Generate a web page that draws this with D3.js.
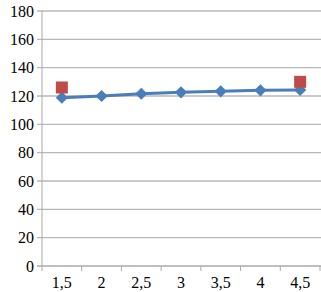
<!DOCTYPE html>
<html><head><meta charset="utf-8">
<script src="https://cdn.jsdelivr.net/npm/d3@7"></script>
<style>body{margin:0;background:#fff}svg{display:block}</style>
</head><body><svg width="321" height="292"></svg>
<script>
const categories = ["1,5","2","2,5","3","3,5","4","4,5"];
const lineValues = [118.8,120,121.6,122.6,123.3,124,124.3];
const markerValues = [126,null,null,null,null,null,130];
const yTicks = [0,20,40,60,80,100,120,140,160,180];

const FONT = "'Liberation Serif','Times New Roman','DejaVu Serif',serif";
const svg = d3.select("svg").attr("font-family",FONT).attr("font-size",16);
const x = d3.scaleBand().domain(categories).range([42,320]);
const y = d3.scaleLinear().domain([0,180]).range([266,11]);

svg.append("g").selectAll("line").data(yTicks).join("line")
  .attr("x1",37).attr("x2",321)
  .attr("y1",d=>y(d)).attr("y2",d=>y(d))
  .attr("stroke",d=>d===0?"#aaa":"#b8b8b8").attr("stroke-width",1.3);
svg.append("g").selectAll("text").data(yTicks).join("text")
  .attr("font-family",FONT).attr("font-size",16).attr("fill","#000")
  .attr("x",34).attr("y",d=>y(d)+5.5).attr("text-anchor","end").text(d=>d);
svg.append("line").attr("x1",42).attr("x2",42).attr("y1",y(180)).attr("y2",y(0)).attr("stroke","#aaa").attr("stroke-width",1);
const bounds = categories.map(c=>x(c)).concat([x.range()[1]]);
svg.append("g").selectAll("line").data(bounds).join("line")
  .attr("x1",d=>d).attr("x2",d=>d).attr("y1",y(0)).attr("y2",y(0)+5)
  .attr("stroke","#aaa");
svg.append("g").selectAll("text").data(categories).join("text")
  .attr("font-family",FONT).attr("font-size",16).attr("fill","#000")
  .attr("x",d=>x(d)+x.bandwidth()/2).attr("y",288).attr("text-anchor","middle").text(d=>d);

const cx = (d,i)=>x(categories[i])+x.bandwidth()/2;
const line = d3.line().x((d,i)=>cx(d,i)).y(d=>y(d));
svg.append("path").datum(lineValues).attr("d",line).attr("fill","none").attr("stroke","#4a7ebb").attr("stroke-width",3);
svg.append("g").selectAll("path").data(lineValues).join("path")
  .attr("transform",(d,i)=>`translate(${cx(d,i)},${y(d)})`)
  .attr("d",d3.symbol(d3.symbolDiamond2,95)())
  .attr("fill","#4a7ebb");
svg.append("g").selectAll("rect").data(markerValues.map((v,i)=>({v,i})).filter(d=>d.v!=null)).join("rect")
  .attr("x",d=>cx(d.v,d.i)-6).attr("y",d=>y(d.v)-6).attr("width",12).attr("height",12)
  .attr("fill","#be4b48");
</script></body></html>
